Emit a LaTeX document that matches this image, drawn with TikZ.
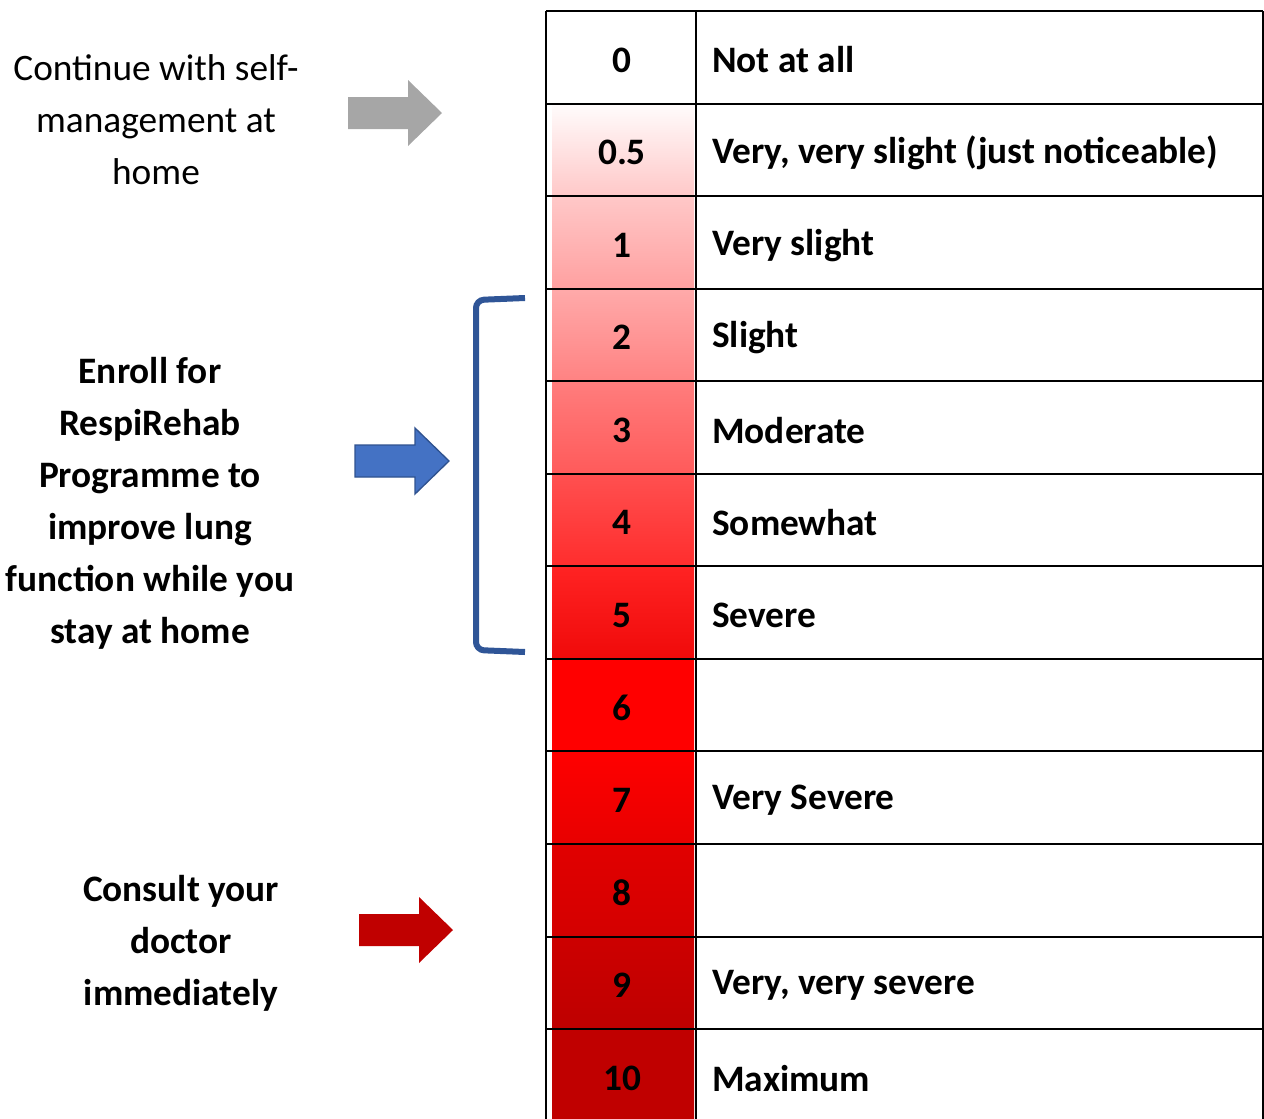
\documentclass[tikz,border=0pt]{standalone}
\usepackage{fontspec}
\setmainfont{Carlito}
\usetikzlibrary{positioning,calc}
\definecolor{gr0}{RGB}{255,255,255}\definecolor{gb0}{RGB}{255,255,255}
\definecolor{gr1}{RGB}{255,252,252}\definecolor{gb1}{RGB}{255,200,200}
\definecolor{gr2}{RGB}{255,200,200}\definecolor{gb2}{RGB}{255,160,160}
\definecolor{gr3}{RGB}{255,170,170}\definecolor{gb3}{RGB}{255,130,130}
\definecolor{gr4}{RGB}{255,125,125}\definecolor{gb4}{RGB}{255,90,90}
\definecolor{gr5}{RGB}{255,80,80}\definecolor{gb5}{RGB}{255,45,45}
\definecolor{gr6}{RGB}{255,35,35}\definecolor{gb6}{RGB}{240,10,10}
\definecolor{gr7}{RGB}{255,0,0}\definecolor{gb7}{RGB}{255,0,0}
\definecolor{gr8}{RGB}{255,0,0}\definecolor{gb8}{RGB}{232,0,0}
\definecolor{gr9}{RGB}{225,0,0}\definecolor{gb9}{RGB}{212,0,0}
\definecolor{gr10}{RGB}{205,0,0}\definecolor{gb10}{RGB}{190,0,0}
\definecolor{gr11}{RGB}{192,0,0}\definecolor{gb11}{RGB}{192,0,0}
\definecolor{arrgray}{RGB}{166,166,166}
\definecolor{arrblue}{RGB}{68,114,196}
\definecolor{arrblueedge}{RGB}{47,82,143}
\definecolor{arrred}{RGB}{192,0,0}
\definecolor{brk}{RGB}{47,85,151}
\tikzset{
  numcell/.style ={minimum width=106.5pt, minimum height=69.4pt, inner sep=0pt,
                   font=\fontsize{28}{33}\selectfont\bfseries},
  desccell/.style={anchor=west, inner sep=0pt, font=\fontsize{28}{33}\selectfont\bfseries},
  note/.style    ={align=center, inner sep=0pt, font=\fontsize{28}{39}\selectfont},
  grid/.style    ={draw=black, line width=1.5pt},
  blockarr/.pic  ={\path[pic actions] (0,-16) -- (60,-16) -- (60,-33) -- (94,0)
                   -- (60,33) -- (60,16) -- (0,16) -- cycle;},
}
\begin{document}
\begin{tikzpicture}[x=0.75pt, y=-0.75pt]
\useasboundingbox (0,0) rectangle (1264,1118);
\foreach \num/\desc [count=\k from 0] in {0/{Not at all}, 0.5/{Very, very slight (just noticeable)},
    1/{Very slight}, 2/{Slight}, 3/{Moderate}, 4/{Somewhat}, 5/{Severe}, 6/{}, 7/{Very Severe},
    8/{}, 9/{Very, very severe}, 10/{Maximum}}{
  \path[top color=gr\k, bottom color=gb\k] (552, 11+92.55*\k) rectangle (694, 11+92.55*\k+92.55);
  \node[numcell] (num\k) at (622, 11+92.55*\k+49) {\num};
  \node[desccell] (desc\k) at (712, 11+92.55*\k+49) {\desc};
}
\foreach \k in {0,...,12}
  \draw[grid] (546, 11+92.55*\k) -- (1263, 11+92.55*\k);
\draw[grid] (546,11) -- (546,1125) (696,11) -- (696,1125) (1263,11) -- (1263,1125);

\node[note] (selfcare) at (156,120) {Continue with self-\\management at\\home};
\node[note, font=\fontsize{28}{39}\selectfont\bfseries] (rehab) at (150,503)
  {Enroll for\\RespiRehab\\Programme to\\improve lung\\function while you\\stay at home};
\node[note, font=\fontsize{28}{39}\selectfont\bfseries] (doctor) at (181,943)
  {Consult your\\doctor\\immediately};

\pic[fill=arrgray] at (348,113) {blockarr};
\pic[fill=arrblue, draw=arrblueedge, line width=1pt] at (355,461) {blockarr};
\pic[fill=arrred] at (359,930) {blockarr};

\draw[brk, line width=4.5pt, rounded corners=6pt] (525,298) -- (476,300) -- (476,650) -- (525,652);
\end{tikzpicture}
\end{document}
